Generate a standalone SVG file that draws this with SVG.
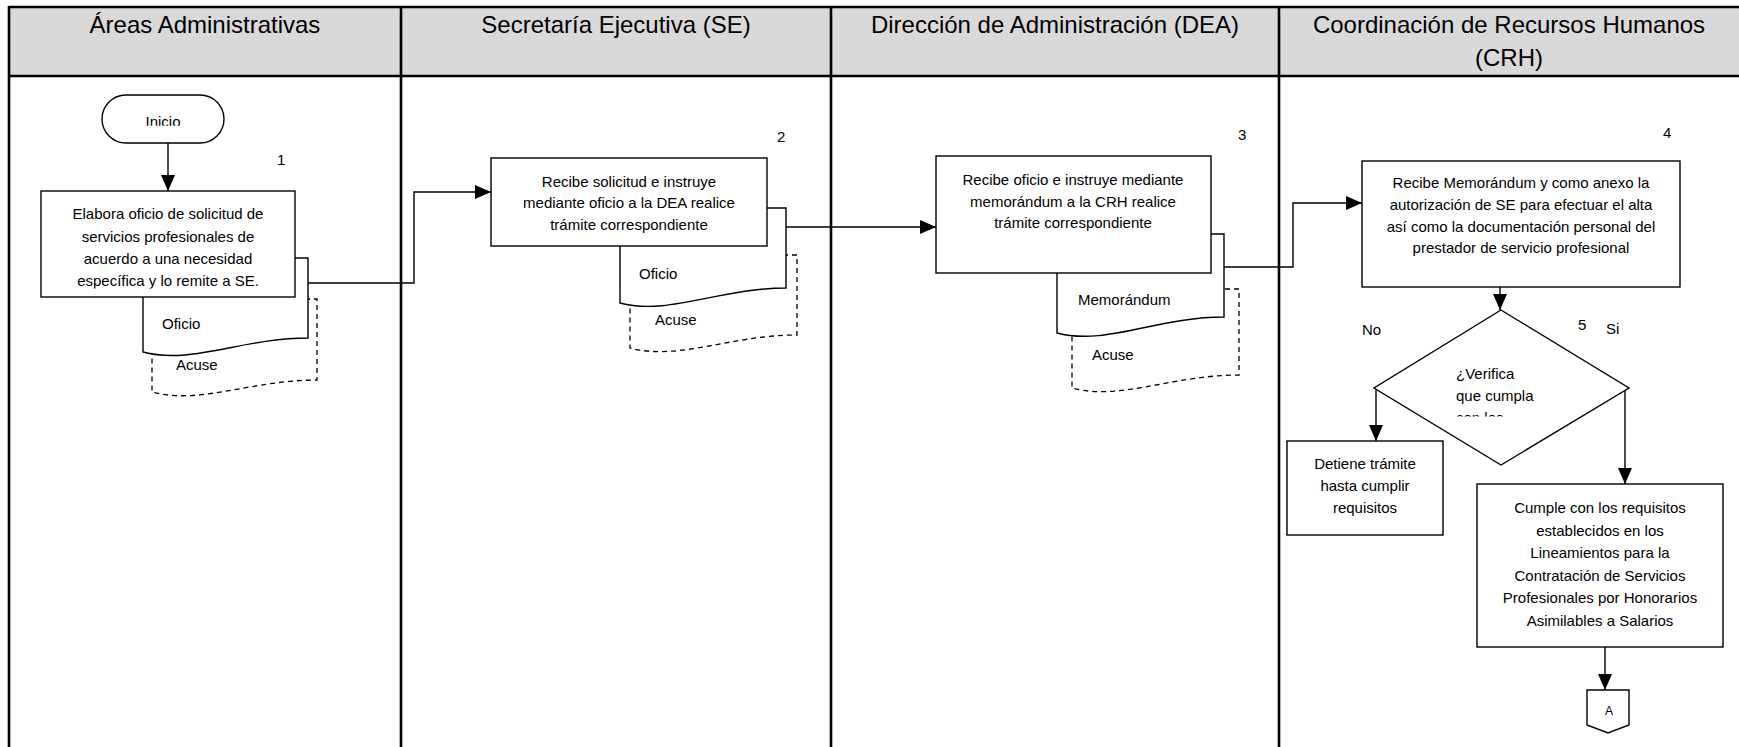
<svg xmlns="http://www.w3.org/2000/svg" width="1739" height="747" viewBox="0 0 1739 747">
<style>
text{font-family:"Liberation Sans",Arial,sans-serif;fill:#000}
.hd{font-size:24px;text-anchor:middle}
.t{font-size:15px;text-anchor:middle}
.l{font-size:15px}
.box{fill:#fff;stroke:#000;stroke-width:1.4}
.doc{fill:#fff;stroke:#000;stroke-width:1.4}
.dash{fill:#fff;stroke:#000;stroke-width:1.3;stroke-dasharray:5,4}
.lane{stroke:#000;stroke-width:2.6;fill:none}
.con{stroke:#000;stroke-width:1.4;fill:none;marker-end:url(#ah)}
</style>
<defs>
<marker id="ah" markerUnits="userSpaceOnUse" markerWidth="16" markerHeight="14" refX="16" refY="7" orient="auto">
<path d="M0,0 L16,7 L0,14 Z" fill="#000"/>
</marker>
<clipPath id="clipInicio"><rect x="100" y="90" width="130" height="35.7"/></clipPath>
<clipPath id="clipBox1"><rect x="30" y="190" width="280" height="98.5"/></clipPath>
<clipPath id="clipDiamond"><rect x="1380" y="300" width="240" height="116.5"/></clipPath>
</defs>

<g id="lanes">
<rect x="9" y="7" width="1735" height="69" fill="#d9d9d9"/>
<line class="lane" x1="9" y1="7" x2="1739" y2="7"/>
<line class="lane" x1="9" y1="76" x2="1739" y2="76"/>
<line class="lane" x1="9" y1="6" x2="9" y2="747"/>
<line class="lane" x1="401" y1="6" x2="401" y2="747"/>
<line class="lane" x1="831" y1="6" x2="831" y2="747"/>
<line class="lane" x1="1279" y1="6" x2="1279" y2="747"/>
<text class="hd" x="205" y="33">Áreas Administrativas</text>
<text class="hd" x="616" y="33">Secretaría Ejecutiva (SE)</text>
<text class="hd" x="1055" y="33">Dirección de Administración (DEA)</text>
<text class="hd" x="1509" y="33">Coordinación de Recursos Humanos</text>
<text class="hd" x="1509" y="66">(CRH)</text>
</g>

<g id="connectors">
<path class="con" d="M168,143 V191"/>
<path class="con" d="M308,283 H414 V192 H491"/>
<path class="con" d="M786,227 H936"/>
<path class="con" d="M1224,267 H1293 V203 H1362"/>
<path class="con" d="M1500,287 V310"/>
<path class="con" d="M1376,390 V441"/>
<path class="con" d="M1625,390 V484"/>
<path class="con" d="M1605,647 V690"/>
</g>

<g id="inicio">
<rect class="box" x="102" y="95" width="122" height="48" rx="24" ry="24"/>
<text class="t" x="163" y="127" clip-path="url(#clipInicio)">Inicio</text>
</g>

<g id="docs1">
<path class="dash" d="M152,299 H317 V380 C251,380 200,405 152,392 Z"/>
<text class="l" x="176" y="370">Acuse</text>
<path class="doc" d="M143,258 H308 V338 C242,338 191,365 143,352 Z"/>
<text class="l" x="162" y="329">Oficio</text>
</g>

<g id="paso1">
<rect class="box" x="41" y="191" width="254" height="106"/>
<g clip-path="url(#clipBox1)">
<text class="t" x="168" y="219">Elabora oficio de solicitud de</text>
<text class="t" x="168" y="242">servicios profesionales de</text>
<text class="t" x="168" y="264">acuerdo a una necesidad</text>
<text class="t" x="168" y="286">específica y lo remite a SE.</text>
</g>
<text class="l" x="277" y="165">1</text>
</g>

<g id="docs2">
<path class="dash" d="M630,255 H797 V335 C731,335 678,361 630,348 Z"/>
<text class="l" x="655" y="325">Acuse</text>
<path class="doc" d="M620,208 H786 V288 C720,288 668,316 620,303 Z"/>
<text class="l" x="639" y="279">Oficio</text>
</g>

<g id="paso2">
<rect class="box" x="491" y="158" width="276" height="88"/>
<text class="t" x="629" y="187">Recibe solicitud e instruye</text>
<text class="t" x="629" y="208">mediante oficio a la DEA realice</text>
<text class="t" x="629" y="230">trámite correspondiente</text>
<text class="l" x="777" y="142">2</text>
</g>

<g id="docs3">
<path class="dash" d="M1072,289 H1239 V375 C1172,375 1120,401 1072,388 Z"/>
<text class="l" x="1092" y="360">Acuse</text>
<path class="doc" d="M1057,234 H1224 V317 C1157,317 1105,346 1057,333 Z"/>
<text class="l" x="1078" y="305">Memorándum</text>
</g>

<g id="paso3">
<rect class="box" x="936" y="156" width="275" height="117"/>
<text class="t" x="1073" y="185">Recibe oficio e instruye mediante</text>
<text class="t" x="1073" y="207">memorándum a la CRH realice</text>
<text class="t" x="1073" y="228">trámite correspondiente</text>
<text class="l" x="1238" y="140">3</text>
</g>

<g id="paso4">
<rect class="box" x="1362" y="161" width="318" height="126"/>
<text class="t" x="1521" y="188">Recibe Memorándum y como anexo la</text>
<text class="t" x="1521" y="210">autorización de SE para efectuar el alta</text>
<text class="t" x="1521" y="232">así como la documentación personal del</text>
<text class="t" x="1521" y="253">prestador de servicio profesional</text>
<text class="l" x="1663" y="138">4</text>
</g>

<g id="decision5">
<polygon class="box" points="1501,310 1629,388 1501,465 1374,388"/>
<g clip-path="url(#clipDiamond)">
<text class="l" x="1456" y="379">¿Verifica</text>
<text class="l" x="1456" y="401">que cumpla</text>
<text class="l" x="1456" y="423">con los</text>
</g>
<text class="l" x="1578" y="330">5</text>
<text class="l" x="1362" y="335">No</text>
<text class="l" x="1606" y="334">Si</text>
</g>

<g id="detiene">
<rect class="box" x="1287" y="441" width="156" height="94"/>
<text class="t" x="1365" y="469">Detiene trámite</text>
<text class="t" x="1365" y="491">hasta cumplir</text>
<text class="t" x="1365" y="513">requisitos</text>
</g>

<g id="cumple">
<rect class="box" x="1477" y="484" width="246" height="163"/>
<text class="t" x="1600" y="513">Cumple con los requisitos</text>
<text class="t" x="1600" y="535.6">establecidos en los</text>
<text class="t" x="1600" y="558.2">Lineamientos para la</text>
<text class="t" x="1600" y="580.8">Contratación de Servicios</text>
<text class="t" x="1600" y="603.4">Profesionales por Honorarios</text>
<text class="t" x="1600" y="626">Asimilables a Salarios</text>
</g>

<g id="conectorA">
<polygon class="box" points="1587,690 1629,690 1629,725 1608,733 1587,725"/>
<text x="1609" y="715" font-size="12" text-anchor="middle">A</text>
</g>
</svg>
